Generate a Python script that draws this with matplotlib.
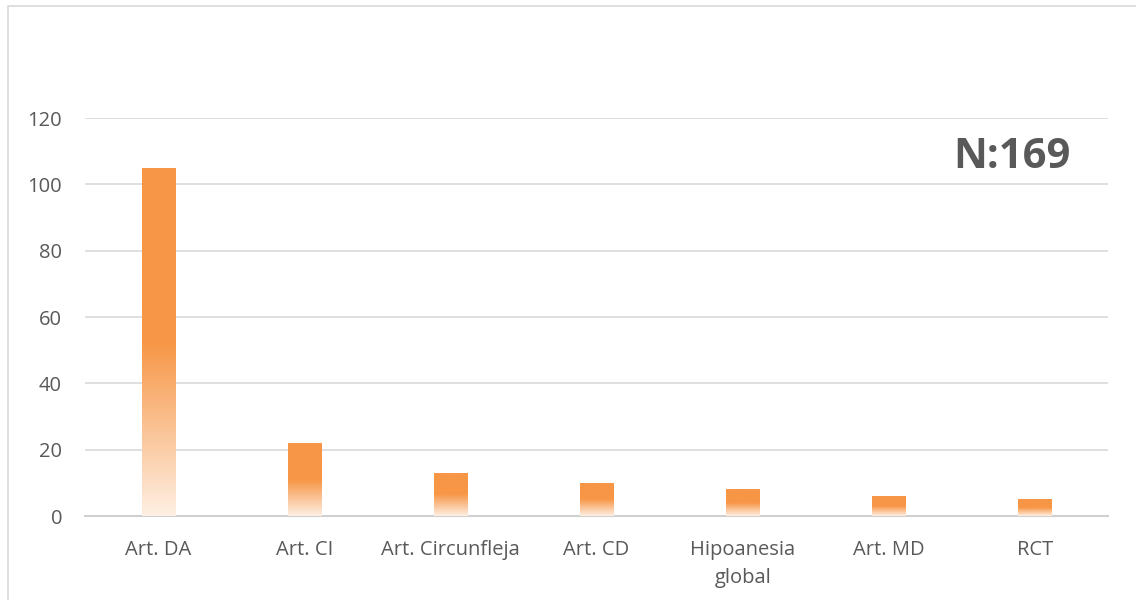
import numpy as np
import matplotlib.pyplot as plt
from matplotlib.colors import to_rgb
from matplotlib.patches import Rectangle

categories = ['Art. DA', 'Art. CI', 'Art. Circunfleja', 'Art. CD',
              'Hipoanesia\nglobal', 'Art. MD', 'RCT']
counts = [105, 22, 13, 10, 8, 6, 5]
total_label = 'N:169'

plt.rcParams['font.family'] = ['Open Sans', 'DejaVu Sans']

fig = plt.figure(figsize=(11.36, 6), dpi=100)
ax = fig.add_axes([0.0748, 0.14, 0.9006, 0.6633])

# outer chart frame
fig.patches.append(Rectangle((8 / 1136, -0.1), 1.2, 1.1 - 6 / 600,
                             transform=fig.transFigure, fill=False,
                             edgecolor='#d9d9d9', linewidth=1.2))

x = np.arange(len(categories))
bars = ax.bar(x, counts, width=0.226, color='none', edgecolor='none', zorder=3)

# vertical fade: solid orange on top half, fading towards the base
orange = np.array(to_rgb('#F79646'))
white = np.ones(3)
t = np.linspace(0, 1, 256)
alpha = np.clip(0.15 + 0.85 * t / 0.5, 0, 1)
grad = alpha[:, None] * orange + (1 - alpha[:, None]) * white
grad = grad[:, None, :]

for b in bars:
    x0, w, h = b.get_x(), b.get_width(), b.get_height()
    im = ax.imshow(grad, extent=(x0, x0 + w, 0, h), origin='lower',
                   aspect='auto', zorder=3, interpolation='bilinear')
    im.set_clip_path(b)

ax.set_xlim(-0.5, len(categories) - 0.5)
ax.set_ylim(0, 120)
ax.set_yticks(range(0, 121, 20))
ax.set_xticks(x)
ax.set_xticklabels(categories, linespacing=1.52)

ax.grid(axis='y', color='#d9d9d9', linewidth=1.2, zorder=0)
ax.set_axisbelow(True)
for s in ['top', 'right', 'left']:
    ax.spines[s].set_visible(False)
ax.spines['bottom'].set_color('#d0d0d0')
ax.spines['bottom'].set_linewidth(1.5)
ax.tick_params(axis='both', length=0, labelsize=14.5, colors='#595959')
ax.tick_params(axis='y', pad=16.5)
ax.tick_params(axis='x', pad=17.5)

ax.text(0.963, 0.874, total_label, transform=ax.transAxes, ha='right',
        va='baseline', fontsize=30, fontweight='bold', color='#595959')

fig.savefig('out.png', dpi=100, facecolor='white')
